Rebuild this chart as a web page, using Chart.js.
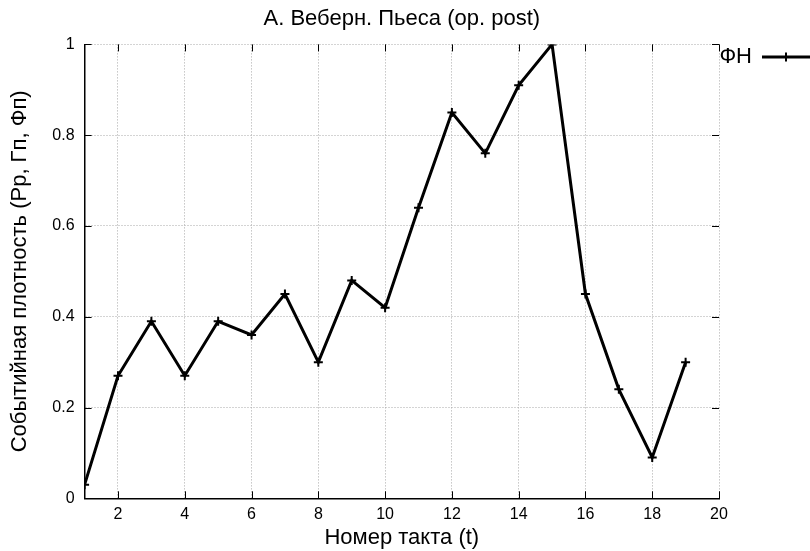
<!DOCTYPE html>
<html>
<head>
<meta charset="utf-8">
<script src="https://cdn.jsdelivr.net/npm/chart.js@4/dist/chart.umd.min.js"></script>
<style>
  html, body { margin: 0; padding: 0; background: #ffffff; }
  #wrap { width: 810px; height: 551px; }
</style>
</head>
<body>
<div id="wrap"><canvas id="c" width="810" height="551"></canvas></div>
<script>
// ---- data ----
const chartTitle = 'А. Веберн. Пьеса (op. post)';
const xAxisTitle = 'Номер такта (t)';
const yAxisTitle = 'Событийная плотность (Рр, Гп, Фп)';
const seriesName = 'ФН';
const barNumbers = [1, 2, 3, 4, 5, 6, 7, 8, 9, 10, 11, 12, 13, 14, 15, 16, 17, 18, 19];
const densityValues = [0.03, 0.27, 0.39, 0.27, 0.39, 0.36, 0.45, 0.30, 0.48, 0.42, 0.64, 0.85, 0.76, 0.91, 1.00, 0.45, 0.24, 0.09, 0.30];
const xTickValues = [2, 4, 6, 8, 10, 12, 14, 16, 18, 20];
const yTickValues = [0, 0.2, 0.4, 0.6, 0.8, 1];
const xRange = [1, 20];
const yRange = [0, 1];

const FONT = "'Liberation Sans', Arial, Helvetica, sans-serif";

// inward tick marks on all four sides (gnuplot style)
const innerTicks = {
  id: 'innerTicks',
  beforeDatasetsDraw(chart) {
    const { ctx, chartArea: a, scales: { x, y } } = chart;
    const L = 7;
    ctx.save();
    ctx.strokeStyle = '#000';
    ctx.lineWidth = 1;
    ctx.beginPath();
    x.ticks.forEach(t => {
      const px = Math.round(x.getPixelForValue(t.value)) + 0.5;
      ctx.moveTo(px, a.bottom); ctx.lineTo(px, a.bottom - L);
      ctx.moveTo(px, a.top); ctx.lineTo(px, a.top + L);
    });
    y.ticks.forEach(t => {
      const py = Math.round(y.getPixelForValue(t.value)) + 0.5;
      ctx.moveTo(a.left, py); ctx.lineTo(a.left + L, py);
      ctx.moveTo(a.right, py); ctx.lineTo(a.right - L, py);
    });
    ctx.stroke();
    ctx.restore();
  }
};

// gnuplot-style key: text, then line sample with marker
const gnuKey = {
  id: 'gnuKey',
  afterDraw(chart) {
    const { ctx, chartArea: a } = chart;
    const ds = chart.data.datasets[0];
    const yMid = a.top + 12.5;
    const textRight = a.right + 33;
    ctx.save();
    ctx.font = '22px ' + FONT;
    ctx.fillStyle = '#000';
    ctx.textAlign = 'right';
    ctx.textBaseline = 'middle';
    ctx.fillText(ds.label, textRight, yMid);
    ctx.strokeStyle = ds.borderColor;
    ctx.lineWidth = ds.borderWidth;
    ctx.beginPath();
    ctx.moveTo(textRight + 10, yMid);
    ctx.lineTo(chart.width + 5, yMid);
    ctx.stroke();
    const mx = textRight + 34, r = ds.pointRadius;
    ctx.lineWidth = ds.pointBorderWidth;
    ctx.beginPath();
    ctx.moveTo(mx, yMid - r); ctx.lineTo(mx, yMid + r);
    ctx.moveTo(mx - r, yMid); ctx.lineTo(mx + r, yMid);
    ctx.stroke();
    ctx.restore();
  }
};

new Chart(document.getElementById('c'), {
  type: 'line',
  data: {
    datasets: [{
      label: seriesName,
      data: barNumbers.map((b, i) => ({ x: b, y: densityValues[i] })),
      borderColor: '#000',
      backgroundColor: '#000',
      borderWidth: 3,
      tension: 0,
      fill: false,
      pointStyle: 'cross',
      pointRadius: 4.5,
      pointBorderWidth: 2,
      pointBorderColor: '#000',
      pointHoverRadius: 4.5
    }]
  },
  options: {
    responsive: false,
    animation: false,
    devicePixelRatio: 1,
    layout: { padding: { left: 0, right: 91, top: 0, bottom: 0 } },
    plugins: {
      legend: { display: false },
      tooltip: { enabled: false },
      title: {
        display: true,
        text: chartTitle,
        fullSize: false,
        color: '#000',
        font: { family: FONT, size: 22, weight: 'normal', lineHeight: 1.2 },
        padding: { top: 6, bottom: 12 }
      }
    },
    scales: {
      x: {
        type: 'linear',
        min: xRange[0],
        max: xRange[1],
        afterBuildTicks: s => { s.ticks = xTickValues.map(v => ({ value: v })); },
        afterFit: s => { s.height = 52.7; },
        ticks: {
          color: '#000',
          font: { family: FONT, size: 16 },
          padding: 7,
          callback: v => String(v)
        },
        grid: { color: '#a8a8a8', lineWidth: 1, drawTicks: false },
        border: { display: true, color: '#000', width: 1.5, dash: [1, 2] },
        title: {
          display: true,
          text: xAxisTitle,
          color: '#000',
          font: { family: FONT, size: 22, lineHeight: 1.2 },
          padding: { top: 0, bottom: 0 }
        }
      },
      y: {
        type: 'linear',
        min: yRange[0],
        max: yRange[1],
        afterBuildTicks: s => { s.ticks = yTickValues.map(v => ({ value: v })); },
        afterFit: s => { s.width = 84.6; },
        ticks: {
          color: '#000',
          font: { family: FONT, size: 16 },
          padding: 10,
          callback: v => String(Math.round(v * 10) / 10)
        },
        grid: { color: '#a8a8a8', lineWidth: 1, drawTicks: false },
        border: { display: true, color: '#000', width: 1.5, dash: [1, 2] },
        title: {
          display: true,
          text: yAxisTitle,
          color: '#000',
          font: { family: FONT, size: 22, lineHeight: 1.2 },
          padding: { top: 6.3, bottom: 0 }
        }
      }
    }
  },
  plugins: [innerTicks, gnuKey]
});
</script>
</body>
</html>
